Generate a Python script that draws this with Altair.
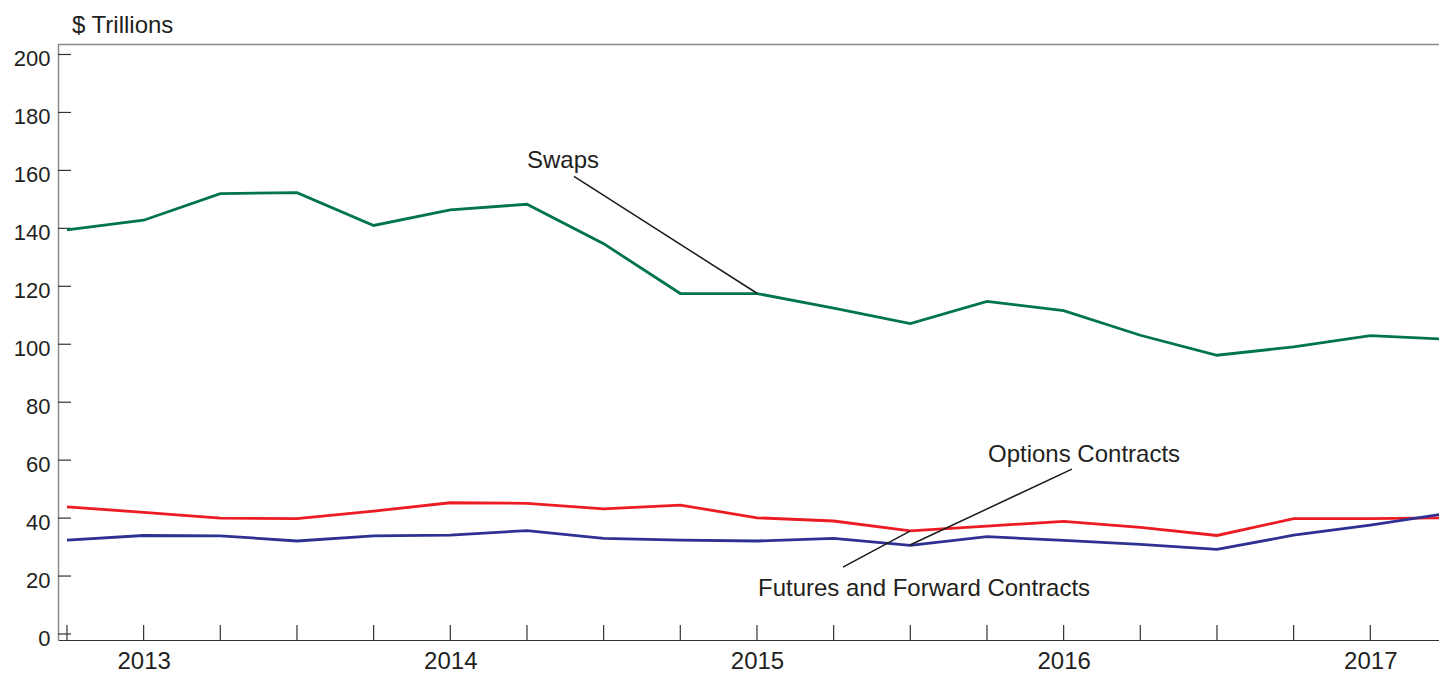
import altair as alt
import pandas as pd

# ---- data ----
quarters = ["2012 Q4", "2013 Q1", "2013 Q2", "2013 Q3", "2013 Q4",
            "2014 Q1", "2014 Q2", "2014 Q3", "2014 Q4",
            "2015 Q1", "2015 Q2", "2015 Q3", "2015 Q4",
            "2016 Q1", "2016 Q2", "2016 Q3", "2016 Q4",
            "2017 Q1", "2017 Q2"]
swaps = [139.5, 142.8, 152.0, 152.3, 141.0, 146.4, 148.3, 134.7, 117.5, 117.5,
         112.5, 107.1, 114.8, 111.6, 103.1, 96.2, 99.1, 103.0, 101.7]
options = [43.9, 42.0, 40.0, 39.8, 42.4, 45.3, 45.1, 43.2, 44.5, 40.1,
           39.0, 35.6, 37.2, 38.9, 36.8, 34.0, 39.8, 39.8, 40.1]
futures = [32.4, 34.0, 33.9, 32.1, 33.9, 34.1, 35.7, 33.0, 32.4, 32.1,
           33.0, 30.6, 33.6, 32.3, 30.9, 29.2, 34.1, 37.6, 41.6]
series_names = ["Swaps", "Options Contracts", "Futures and Forward Contracts"]
series_colors = ["#00754A", "#ED1C24", "#2E3192"]
year_labels = ["2013", "2014", "2015", "2016", "2017"]
year_positions = [1, 5, 9, 13, 17]
y_ticks = [0, 20, 40, 60, 80, 100, 120, 140, 160, 180, 200]

# annotations: label text, label anchor (x index, y value), leader start/end
ann_text = ["Swaps", "Options Contracts", "Futures and Forward Contracts"]
ann_x = [6.0, 12.013, 9.013]
ann_y = [160.8, 59.4, 13.2]
lead_x1 = [6.613, 13.108, 10.122]
lead_y1 = [157.9, 56.9, 23.1]
lead_x2 = [9.0, 10.996, 10.996]
lead_y2 = [117.6, 30.7, 35.5]

FONT = "Liberation Sans"
W, H = 1381, 596
x_domain = [-0.117, 17.896]
y_domain = [-2.07, 203.62]

rows = []
for name, vals in zip(series_names, [swaps, options, futures]):
    for i, (q, v) in enumerate(zip(quarters, vals)):
        rows.append({"idx": i, "quarter": q, "series": name, "value": v})
df = pd.DataFrame(rows)

label_expr = " : ".join(
    f"datum.value == {p} ? '{t}'" for p, t in zip(year_positions, year_labels)
) + " : ''"

xs = alt.Scale(domain=x_domain, nice=False, zero=False)
ys = alt.Scale(domain=y_domain, nice=False, zero=False)

lines = alt.Chart(df).mark_line(strokeWidth=2.8, clip=True).encode(
    x=alt.X("idx:Q", scale=xs,
            axis=alt.Axis(values=year_positions, labelExpr=label_expr, title=None,
                          grid=False, ticks=False, tickSize=0, labelPadding=9,
                          labelFontSize=24, labelFont=FONT, labelColor="#231F20",
                          domainColor="#333333", domainWidth=1.2)),
    y=alt.Y("value:Q", scale=ys,
            axis=alt.Axis(values=y_ticks, title=None, grid=False, ticks=False,
                          tickSize=0, labelPadding=8, labelOffset=4,
                          labelFontSize=22, labelFont=FONT, labelColor="#231F20",
                          domainColor="#8A8A8A", domainWidth=1.5)),
    color=alt.Color("series:N", scale=alt.Scale(domain=series_names, range=series_colors),
                    legend=None),
    detail="series:N",
)

ann_df = pd.DataFrame({"text": ann_text, "x": ann_x, "y": ann_y,
                       "x1": lead_x1, "y1": lead_y1, "x2": lead_x2, "y2": lead_y2})

ann_text_layer = alt.Chart(ann_df).mark_text(
    align="left", baseline="alphabetic", fontSize=24, font=FONT, color="#231F20"
).encode(x=alt.X("x:Q", scale=xs), y=alt.Y("y:Q", scale=ys), text="text:N")

leaders = alt.Chart(ann_df).mark_rule(color="#1A1A1A", strokeWidth=1.5).encode(
    x=alt.X("x1:Q", scale=xs), y=alt.Y("y1:Q", scale=ys),
    x2="x2:Q", y2="y2:Q")

qdf = pd.DataFrame({"idx": list(range(len(quarters))), "quarter": quarters})
x_ticks = alt.Chart(qdf).mark_rule(color="#333333", strokeWidth=1.2, clip=True).encode(
    x=alt.X("idx:Q", scale=xs), y=alt.value(H - 15), y2=alt.value(H))

ydf = pd.DataFrame({"v": y_ticks})
y_tick_marks = alt.Chart(ydf).mark_rule(color="#333333", strokeWidth=1.2).encode(
    y=alt.Y("v:Q", scale=ys), x=alt.value(0), x2=alt.value(13))

top_border = alt.Chart(pd.DataFrame({"a": [0]})).mark_rule(
    color="#8A8A8A", strokeWidth=1.5).encode(x=alt.value(0), x2=alt.value(W), y=alt.value(0.5))

unit_title = alt.Chart(pd.DataFrame({"t": ["$ Trillions"]})).mark_text(
    align="left", baseline="alphabetic", fontSize=24, font=FONT, color="#231F20"
).encode(x=alt.value(14), y=alt.value(-11.3), text="t:N")

chart = alt.layer(
    top_border, x_ticks, y_tick_marks, lines, leaders, ann_text_layer, unit_title
).properties(
    width=W, height=H,
    autosize=alt.AutoSizeParams(type="none"),
    padding={"left": 50, "top": 36, "right": 0, "bottom": 33},
    background="white",
).configure_view(strokeWidth=0)

chart.save("out.html", embed_options={"renderer": "svg", "actions": False})
